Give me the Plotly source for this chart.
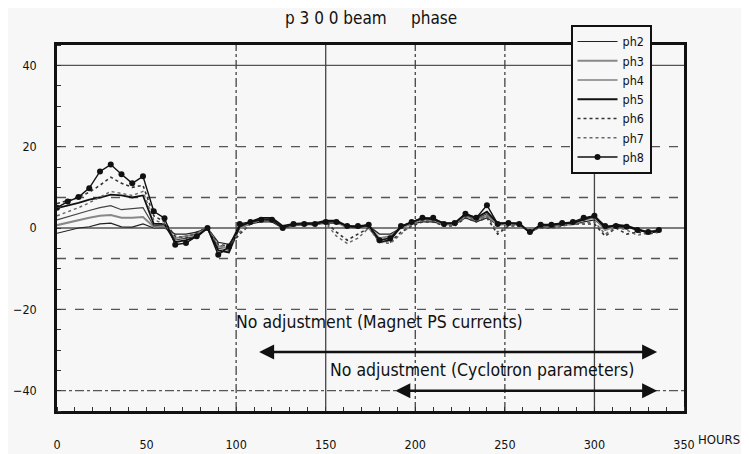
import plotly.graph_objects as go

hours = list(range(0, 337, 6))

ph2 = [-1.3,-0.6,0.0,0.3,1.0,1.2,0.3,0.2,1.0,0.0,
       0.0,-1.5,-1.5,-1.0,0.0,-3.5,-4.0,0.0,1.0,1.5,
       1.5,0.0,0.5,0.8,0.8,1.2,1.2,0.5,0.2,0.5,
       -1.5,-1.5,0.0,1.0,1.5,1.5,0.8,0.8,2.5,1.5,
       2.5,0.8,0.8,0.8,-0.8,0.3,0.3,0.8,0.8,1.5,
       2.0,0.0,0.3,0.3,-0.3,-0.8,-0.5]
ph3 = [0.7,1.3,2.0,2.5,3.0,3.2,2.5,2.5,2.7,0.3,
       0.5,-2.5,-2.0,-1.5,0.0,-4.5,-5.0,0.0,1.2,2.0,
       2.0,0.2,0.8,1.0,1.0,1.5,1.5,0.0,0.0,0.5,
       -2.5,-2.0,0.0,1.2,2.0,2.0,1.0,1.0,3.0,2.0,
       3.0,1.0,1.0,1.0,-1.0,0.5,0.5,1.0,1.0,2.0,
       2.5,-0.5,0.5,0.5,-0.5,-1.0,-0.5]
ph4 = [2.0,2.8,3.5,4.3,5.0,5.5,4.5,4.8,5.0,0.5,
       0.8,-3.0,-2.5,-2.0,0.0,-5.0,-5.5,0.2,1.5,2.2,
       2.2,0.3,1.0,1.0,1.2,1.5,1.8,0.2,0.0,0.5,
       -3.0,-2.5,0.2,1.5,2.2,2.0,1.2,1.2,3.2,2.2,
       3.5,1.2,1.2,1.0,-1.2,0.5,0.5,1.0,1.2,2.0,
       2.8,0.0,0.5,0.5,-0.5,-1.0,-0.8]
ph5 = [4.9,5.5,6.2,7.0,7.5,8.2,8.0,7.5,8.0,1.0,
       1.0,-3.5,-3.0,-2.2,0.0,-5.5,-6.0,0.5,1.5,2.5,
       2.5,0.5,1.0,1.2,1.2,1.8,1.8,0.5,0.2,0.8,
       -3.5,-3.0,0.3,1.5,2.5,2.2,1.2,1.2,3.5,2.5,
       4.0,1.2,1.2,1.2,-1.2,0.8,0.8,1.2,1.2,2.2,
       3.0,0.0,0.8,0.5,-0.3,-1.2,-0.8]
ph6 = [6.0,6.8,7.5,8.8,10.5,12.5,11.0,10.0,10.5,3.0,
       1.5,-2.0,-2.5,-1.0,0.0,-4.0,-4.5,-1.5,1.0,2.0,
       2.0,0.0,1.0,1.0,1.0,1.5,-1.0,-3.0,-1.5,0.0,
       -3.0,-3.5,-1.0,0.5,1.5,1.5,0.5,0.5,2.5,1.5,
       2.5,-1.5,0.5,0.5,-0.5,0.0,0.0,0.5,1.0,1.0,
       1.0,-2.0,0.0,-1.5,-1.0,-1.5,-1.0]
ph7 = [3.0,4.0,5.0,6.2,7.5,9.0,8.5,8.0,9.0,2.0,
       1.0,-2.5,-2.0,-1.5,0.0,-4.5,-4.0,-1.0,1.0,1.8,
       1.8,0.0,0.8,0.8,0.8,1.2,-2.0,-3.8,-2.5,0.0,
       -3.5,-3.8,-1.5,0.8,1.8,1.8,0.8,0.8,2.8,1.8,
       3.0,-1.0,0.8,0.8,-0.8,0.0,0.2,0.5,1.0,1.2,
       1.5,-1.5,0.2,-0.5,-1.8,-1.2,-1.0]
ph8 = [5.0,6.5,7.6,9.8,13.9,15.6,13.2,11.0,12.7,4.1,
       2.4,-4.1,-3.7,-2.0,0.0,-6.6,-4.6,1.0,1.5,2.0,
       2.0,0.0,1.0,1.0,1.0,1.5,1.5,0.5,0.5,0.8,
       -3.0,-2.5,0.5,1.5,2.5,2.5,1.0,1.2,3.5,2.5,
       5.6,1.0,1.2,1.0,-1.0,0.8,0.8,1.2,1.5,2.5,
       3.0,0.5,0.5,0.3,-0.5,-1.0,-0.5]

series_names = ["ph2", "ph3", "ph4", "ph5", "ph6", "ph7", "ph8"]
x_ticks = [0, 50, 100, 150, 200, 250, 300, 350]
y_ticks = [-40, -20, 0, 20, 40]
h_grid = [(40, "solid"), (20, "dash"), (7.5, "dash"), (0, "solid"),
          (-7.5, "dash"), (-20, "dash"), (-40, "dashdot")]
v_grid = [(100, "dashdot"), (150, "solid"), (200, "dashdot"),
          (250, "dashdot"), (300, "solid")]

FONT = "DejaVu Sans Condensed, Liberation Sans Narrow, Arial Narrow, sans-serif"
BG = "#f7f7f7"

styles = {
    "ph2": dict(color="#222", width=1.2, dash="solid"),
    "ph3": dict(color="#888", width=2.0, dash="solid"),
    "ph4": dict(color="#444", width=1.2, dash="solid"),
    "ph5": dict(color="#111", width=1.8, dash="solid"),
    "ph6": dict(color="#333", width=1.6, dash="dot"),
    "ph7": dict(color="#666", width=1.4, dash="dot"),
    "ph8": dict(color="#111", width=1.4, dash="solid"),
}
data = {"ph2": ph2, "ph3": ph3, "ph4": ph4, "ph5": ph5,
        "ph6": ph6, "ph7": ph7, "ph8": ph8}

fig = go.Figure()
for name in series_names:
    mode = "lines+markers" if name == "ph8" else "lines"
    fig.add_trace(go.Scatter(
        x=hours, y=data[name], name=name, mode=mode,
        line=styles[name],
        marker=dict(size=6, color="#111", symbol="circle"),
    ))

shapes = []
for val, dash in h_grid:
    shapes.append(dict(type="line", xref="paper", yref="y", x0=0, x1=1,
                       y0=val, y1=val, layer="below",
                       line=dict(color="#555", width=1.3, dash=dash)))
for val, dash in v_grid:
    shapes.append(dict(type="line", xref="x", yref="paper", x0=val, x1=val,
                       y0=0, y1=1, layer="below",
                       line=dict(color="#444", width=1.3, dash=dash)))

annotations = [
    dict(x=99, y=-23.2, xref="x", yref="y", xanchor="left", showarrow=False,
         text="No adjustment (Magnet PS currents)",
         font=dict(family=FONT, size=17.5, color="#111")),
    dict(x=151, y=-34.9, xref="x", yref="y", xanchor="left", showarrow=False,
         text="No adjustment (Cyclotron parameters)",
         font=dict(family=FONT, size=17.5, color="#111")),
    dict(x=335, y=-30.5, ax=112, ay=-30.5, xref="x", yref="y", axref="x", ayref="y",
         text="", showarrow=True, arrowside="end+start", arrowhead=2,
         startarrowhead=2, arrowsize=1.2, startarrowsize=1.2, arrowwidth=2.5,
         arrowcolor="#111"),
    dict(x=335, y=-40, ax=188, ay=-40, xref="x", yref="y", axref="x", ayref="y",
         text="", showarrow=True, arrowside="end+start", arrowhead=2,
         startarrowhead=2, arrowsize=1.2, startarrowsize=1.2, arrowwidth=2.5,
         arrowcolor="#111"),
    dict(x=1.056, y=-0.079, xref="paper", yref="paper", xanchor="center",
         yanchor="middle", showarrow=False,
         text="HOURS", font=dict(family=FONT, size=13, color="#111")),
]

fig.update_layout(
    width=741, height=446,
    margin=dict(l=49, r=65, t=37, b=43, autoexpand=False),
    paper_bgcolor=BG, plot_bgcolor=BG,
    font=dict(family=FONT, size=12.5, color="#111"),
    title=dict(text="p 3 0 0 beam&nbsp;&nbsp;&nbsp;&nbsp;&nbsp;phase", x=0.49, xanchor="center",
               y=0.978, yanchor="middle", automargin=False,
               font=dict(family=FONT, size=17, color="#111")),
    showlegend=True,
    legend=dict(x=0.819, y=1.055, xanchor="left", yanchor="top",
                bgcolor=BG, bordercolor="#111", borderwidth=2,
                font=dict(family=FONT, size=12.5, color="#111"),
                tracegroupgap=0, itemwidth=40),
    shapes=shapes,
    annotations=annotations,
)
fig.update_xaxes(range=[0, 350], tickvals=x_ticks, showgrid=False, zeroline=False,
                 showline=True, linecolor="#111", linewidth=2.5, mirror=True,
                 ticks="", ticklabelstandoff=20, automargin=False,
                 minor=dict(ticks="inside", dtick=10, ticklen=4, tickcolor="#333"))
fig.update_yaxes(range=[-45, 45], tickvals=y_ticks, showgrid=False, zeroline=False,
                 showline=True, linecolor="#111", linewidth=2.5, mirror=True,
                 ticks="", ticklabelstandoff=15, automargin=False,
                 minor=dict(ticks="inside", dtick=5, ticklen=4, tickcolor="#333"))

fig.write_html("out.html")
